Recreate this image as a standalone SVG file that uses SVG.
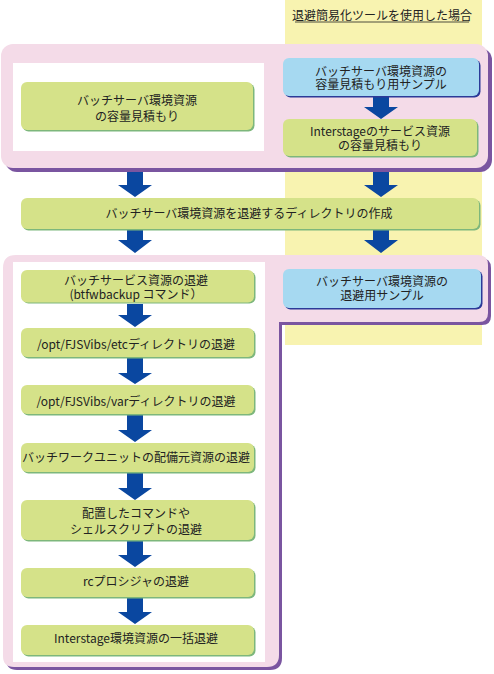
<svg xmlns="http://www.w3.org/2000/svg" width="494" height="674" viewBox="0 0 494 674">
<defs>
<style>
.t{font-family:"Noto Sans CJK JP","Noto Sans",sans-serif;font-size:12px;fill:#222;text-anchor:middle}
.gs{fill:#7db77c}
.g{fill:#d5e289}
.bs{fill:#2b3a98}
.b{fill:#a6d9f1}
.pk{fill:#f4dbe8}
.pu{fill:#7a55a0}
.ar{fill:#0a47a0}
</style>
</defs>
<rect x="285" y="0" width="197" height="345" fill="#f8f3b0"/>
<g id="header">
<text class="t" x="382" y="19.5">退避簡易化ツールを使用した場合</text>
<line x1="295" y1="22" x2="469" y2="22" stroke="#222" stroke-width="0.8"/>
</g>
<g id="frame-top">
<rect class="pu" x="5" y="48" width="487" height="124" rx="12"/>
<rect class="pk" x="1" y="44" width="487" height="124" rx="12"/>
<rect x="13" y="63" width="251" height="88" fill="#fff"/>
</g>
<g id="frame-bottom">
<path class="pu" d="M19,258 H481 Q491,258 491,268 V316 Q491,325 482,325 H282 V658 Q282,670 270,670 H17 Q6,670 6,659 V271 Q6,258 19,258 Z"/>
<path class="pk" d="M16,255 H478 Q488,255 488,265 V313 Q488,322 479,322 H279 V655 Q279,667 267,667 H14 Q3,667 3,656 V268 Q3,255 16,255 Z"/>
<rect x="13" y="262" width="252" height="400" fill="#fff"/>
</g>
<g id="connectors">
<path class="ar" d="M373,96 H389 V107 H398 L381,119 L364,107 H373 Z"/>
<path class="ar" d="M127,172 H143 V185 H152 L135,197 L118,185 H127 Z"/>
<path class="ar" d="M373,172 H389 V185 H398 L381,197 L364,185 H373 Z"/>
<path class="ar" d="M127,229 H143 V240 H152 L135,253 L118,240 H127 Z"/>
<path class="ar" d="M373,229 H389 V240 H398 L381,253 L364,240 H373 Z"/>
<path class="ar" d="M127,304 H143 V315 H152 L135,327 L118,315 H127 Z"/>
<path class="ar" d="M127,358 H143 V373 H152 L135,384 L118,373 H127 Z"/>
<path class="ar" d="M127,415 H143 V430 H152 L135,442 L118,430 H127 Z"/>
<path class="ar" d="M127,473 H143 V488 H152 L135,500 L118,488 H127 Z"/>
<path class="ar" d="M127,541 H143 V555 H152 L135,567 L118,555 H127 Z"/>
<path class="ar" d="M127,598 H143 V612 H152 L135,624 L118,612 H127 Z"/>
</g>
<g id="n-estimate">
<rect class="gs" x="22.5" y="83.5" width="232" height="48" rx="6"/>
<rect class="g" x="21" y="82" width="232" height="48" rx="6"/>
<text class="t" x="137" y="105">バッチサーバ環境資源<tspan x="137" dy="15.5">の容量見積もり</tspan></text>
</g>
<g id="n-estimate-sample">
<rect class="bs" x="284.5" y="59.5" width="196" height="38" rx="6"/>
<rect class="b" x="283" y="58" width="196" height="38" rx="6"/>
<text class="t" x="381" y="75.5">バッチサーバ環境資源の<tspan x="381" dy="13">容量見積もり用サンプル</tspan></text>
</g>
<g id="n-interstage-estimate">
<rect class="gs" x="284.5" y="120.5" width="194" height="37" rx="6"/>
<rect class="g" x="283" y="119" width="194" height="37" rx="6"/>
<text class="t" x="380" y="136">Interstageのサービス資源<tspan x="380" dy="14">の容量見積もり</tspan></text>
</g>
<g id="n-mkdir">
<rect class="gs" x="22.5" y="199.5" width="458" height="31" rx="6"/>
<rect class="g" x="21" y="198" width="458" height="31" rx="6"/>
<text class="t" x="249" y="217.5">バッチサーバ環境資源を退避するディレクトリの作成</text>
</g>
<g id="n-backup-sample">
<rect class="bs" x="284.5" y="270.5" width="198" height="39" rx="6"/>
<rect class="b" x="283" y="269" width="198" height="39" rx="6"/>
<text class="t" x="382" y="286">バッチサーバ環境資源の<tspan x="382" dy="13.5">退避用サンプル</tspan></text>
</g>
<g id="n-btfwbackup">
<rect class="gs" x="22.5" y="271.5" width="233" height="32" rx="6"/>
<rect class="g" x="21" y="270" width="233" height="32.5" rx="6"/>
<text class="t" x="136" y="285">バッチサービス資源の退避<tspan x="136" dy="13.5">(btfwbackup コマンド）</tspan></text>
</g>
<g id="n-etc">
<rect class="gs" x="22.5" y="329.5" width="233" height="29" rx="6"/>
<rect class="g" x="21" y="328" width="233" height="29" rx="6"/>
<text class="t" x="136" y="348.5">/opt/FJSVibs/etcディレクトリの退避</text>
</g>
<g id="n-var">
<rect class="gs" x="22.5" y="386.5" width="233" height="29" rx="6"/>
<rect class="g" x="21" y="385" width="233" height="29" rx="6"/>
<text class="t" x="136" y="405.5">/opt/FJSVibs/varディレクトリの退避</text>
</g>
<g id="n-workunit">
<rect class="gs" x="22.5" y="444.5" width="233" height="29" rx="6"/>
<rect class="g" x="21" y="443" width="233" height="29" rx="6"/>
<text class="t" x="136" y="462">バッチワークユニットの配備元資源の退避</text>
</g>
<g id="n-scripts">
<rect class="gs" x="22.5" y="501.5" width="233" height="40" rx="6"/>
<rect class="g" x="21" y="500" width="233" height="40" rx="6"/>
<text class="t" x="136" y="517.5">配置したコマンドや<tspan x="136" dy="16">シェルスクリプトの退避</tspan></text>
</g>
<g id="n-rc">
<rect class="gs" x="22.5" y="569.5" width="233" height="29" rx="6"/>
<rect class="g" x="21" y="568" width="233" height="29" rx="6"/>
<text class="t" x="136" y="585.5">rcプロシジャの退避</text>
</g>
<g id="n-interstage-backup">
<rect class="gs" x="22.5" y="626.5" width="233" height="30" rx="6"/>
<rect class="g" x="21" y="625" width="233" height="30" rx="6"/>
<text class="t" x="136" y="643">Interstage環境資源の一括退避</text>
</g>
</svg>
